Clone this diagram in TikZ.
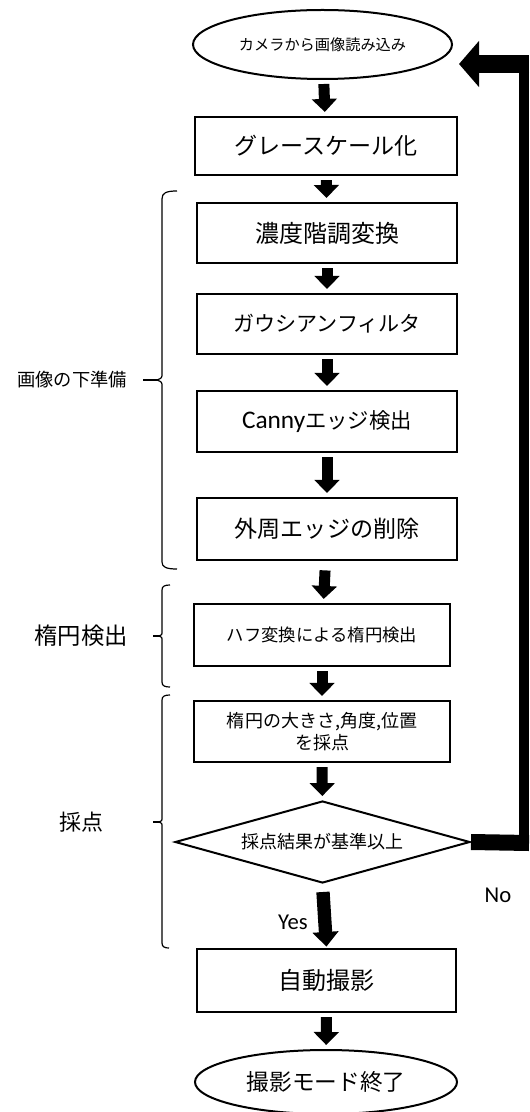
\documentclass[tikz,border=0pt]{standalone}
\usepackage{fontspec}
\setmainfont{Noto Sans CJK JP}
\newfontfamily\calib{Carlito}
\usetikzlibrary{shapes.geometric,arrows.meta}
\tikzset{
  boxnode/.style={draw, line width=1.6pt, rectangle, inner sep=0pt, align=center},
  ovalnode/.style={draw, line width=1.5pt, ellipse, inner sep=0pt},
  decnode/.style={draw, line width=1.5pt, diamond, inner sep=0pt},
  downarrow/.style={line width=8.25pt, -{Triangle[length=9.75pt,width=18.5pt]}, shorten <=3pt, shorten >=3pt},
  bracepath/.style={line width=0.9pt},
  sidelabel/.style={inner sep=0pt},
}
\begin{document}
\begin{tikzpicture}[x=0.75pt,y=-0.75pt]
\useasboundingbox (0,0) rectangle (529,1112);
% nodes
\node[ovalnode, minimum width=194.25pt, minimum height=51.75pt, font=\fontsize{11.4pt}{13pt}\selectfont] (start) at (322.5,44.5) {カメラから画像読み込み};
\node[boxnode, minimum width=196.5pt, minimum height=43.5pt, font=\fontsize{17.3pt}{20pt}\selectfont] (gray) at (326,146) {グレースケール化};
\node[boxnode, minimum width=195pt, minimum height=45pt, font=\fontsize{18pt}{20pt}\selectfont] (noudo) at (327,233) {濃度階調変換};
\node[boxnode, minimum width=195pt, minimum height=45pt, font=\fontsize{15.8pt}{20pt}\selectfont] (gauss) at (327,324) {ガウシアンフィルタ};
\node[boxnode, minimum width=195pt, minimum height=45.75pt, font=\fontsize{16pt}{20pt}\selectfont] (canny) at (327,421.5) {{\calib\fontsize{19pt}{20pt}\selectfont Canny}エッジ検出};
\node[boxnode, minimum width=195pt, minimum height=46.5pt, font=\fontsize{17.3pt}{20pt}\selectfont] (gaishu) at (327,529) {外周エッジの削除};
\node[boxnode, minimum width=192pt, minimum height=46.5pt, font=\fontsize{13pt}{16pt}\selectfont] (hough) at (322,635) {ハフ変換による楕円検出};
\node[boxnode, minimum width=192pt, minimum height=45.75pt, font=\fontsize{13.5pt}{16.5pt}\selectfont] (score) at (322,731.5) {楕円の大きさ,角度,位置\\を採点};
\node[decnode, minimum width=221.25pt, minimum height=61.5pt, font=\fontsize{13.5pt}{16pt}\selectfont] (dec) at (322.5,842) {};
\node[inner sep=0pt, font=\fontsize{13.5pt}{16pt}\selectfont] (dectext) at (dec.center) {採点結果が基準以上};
\node[boxnode, minimum width=194.25pt, minimum height=47.25pt, font=\fontsize{18pt}{20pt}\selectfont] (auto) at (326.5,980.5) {自動撮影};
\node[ovalnode, minimum width=196.5pt, minimum height=48pt, font=\fontsize{17pt}{20pt}\selectfont] (end) at (326,1082) {撮影モード終了};
% labels
\node[sidelabel, font=\calib\fontsize{17pt}{20pt}\selectfont] (yes) at (293,922) {Yes};
\node[sidelabel, font=\calib\fontsize{17pt}{20pt}\selectfont] (no) at (498,895) {No};
\node[sidelabel, font=\fontsize{13.7pt}{16pt}\selectfont] (lab1) at (72,380) {画像の下準備};
\node[sidelabel, font=\fontsize{17.5pt}{20pt}\selectfont] (lab2) at (81,636) {楕円検出};
\node[sidelabel, font=\fontsize{16.5pt}{20pt}\selectfont] (lab3) at (81,822) {採点};
% down arrows
\draw[downarrow] (start) -- (gray);
\draw[downarrow] (gray) -- (noudo);
\draw[downarrow] (noudo) -- (gauss);
\draw[downarrow] (gauss) -- (canny);
\draw[downarrow] (canny) -- (gaishu);
\draw[downarrow, shorten <=7pt] (gaishu) -- (hough);
\draw[downarrow] (hough) -- (score);
\draw[downarrow] (score) -- (dec);
\draw[downarrow, line width=10pt, -{Triangle[length=11pt,width=19pt]}, shorten <=6pt, shorten >=1pt] (dec.south) -- (auto.north);
\draw[downarrow] (auto) -- (end);
% feedback arrow
\coordinate (br) at (529,843);
\coordinate (vb) at (523.5,851);
\coordinate (vt) at (523.5,55);
\coordinate (tr) at (529,64);
\coordinate (fbtip) at (459,64);
\draw[line width=12pt] (dec.east) -- (br);
\draw[line width=7.5pt] (vb) -- (vt);
\draw[line width=13.5pt, -{Triangle[length=15pt,width=33.75pt]}] (tr) -- (fbtip);
% braces
\draw[bracepath] (177,191) .. controls (166,191) and (162,193) .. (162,199) -- (162,373) .. controls (162,378) .. (157,380) .. controls (162,382) .. (162,387) -- (162,562) .. controls (162,567) and (166,569) .. (177,569);
\draw[bracepath] (143,380) -- (157,380);
\draw[bracepath] (170,585) .. controls (165,585) and (162,586) .. (162,590) -- (162,631) .. controls (162,635) .. (159,636) .. controls (162,637) .. (162,641) -- (162,682) .. controls (162,686) and (165,687) .. (170,687);
\draw[bracepath] (153,636) -- (159,636);
\draw[bracepath] (170,695) .. controls (165,695) and (162,696) .. (162,700) -- (162,817) .. controls (162,821) .. (159,822) .. controls (162,823) .. (162,827) -- (162,943) .. controls (162,947) and (165,948) .. (169,948);
\draw[bracepath] (153,822) -- (159,822);
\end{tikzpicture}
\end{document}
